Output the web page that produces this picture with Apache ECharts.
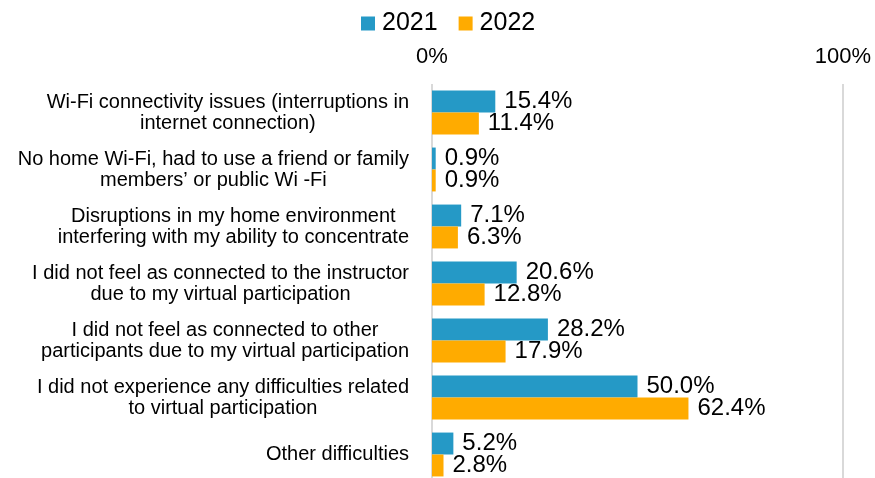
<!DOCTYPE html>
<html>
<head>
<meta charset="utf-8">
<script src="https://cdn.jsdelivr.net/npm/echarts@6/dist/echarts.min.js"></script>
<style>html,body{margin:0;padding:0;background:#fff;}#c{width:875px;height:478px;}</style>
</head>
<body>
<div id="c"></div>
<script>
const categories = [
  "Wi-Fi connectivity issues (interruptions in\ninternet connection)",
  "No home Wi-Fi, had to use a friend or family\nmembers’ or public Wi -Fi",
  "Disruptions in my home environment\ninterfering with my ability to concentrate",
  "I did not feel as connected to the instructor\ndue to my virtual participation",
  "I did not feel as connected to other\nparticipants due to my virtual participation",
  "I did not experience any difficulties related\nto virtual participation",
  "Other difficulties"
];
const values2021 = [15.4, 0.9, 7.1, 20.6, 28.2, 50.0, 5.2];
const values2022 = [11.4, 0.9, 6.3, 12.8, 17.9, 62.4, 2.8];
const seriesNames = ["2021", "2022"];

const chart = echarts.init(document.getElementById('c'));
const font = '"Liberation Sans", Arial, sans-serif';
const labelOpt = {
  show: true, position: 'right', distance: 9,
  fontSize: 24, color: '#000', fontFamily: font,
  formatter: p => p.value.toFixed(1) + '%'
};
chart.setOption({
  animation: false,
  legend: {
    top: 6, left: 356, itemWidth: 14, itemHeight: 14, itemGap: 21,
    icon: 'rect',
    textStyle: { fontSize: 25, color: '#000', fontFamily: font, padding: [0, 0, 0, 2] },
    data: seriesNames
  },
  grid: { left: 432, width: 411, top: 84, height: 399, outerBoundsMode: 'none', containLabel: false },
  xAxis: {
    type: 'value', position: 'top', min: 0, max: 100, interval: 100,
    axisLine: { show: false }, axisTick: { show: false },
    axisLabel: { formatter: '{value}%', fontSize: 22, color: '#000', fontFamily: font, margin: 16 },
    splitLine: { show: true, lineStyle: { color: '#d9d9d9', width: 2 } }
  },
  yAxis: {
    type: 'category', inverse: true, data: categories,
    axisLine: { show: false }, axisTick: { show: false },
    axisLabel: {
      margin: 23, align: 'right',
      formatter: v => v.split('\n').map(l => '{c|' + l + '}').join('\n'),
      rich: { c: { align: 'center', fontSize: 20, lineHeight: 21, color: '#000', fontFamily: font } }
    }
  },
  series: [
    { name: seriesNames[0], type: 'bar', data: values2021, barGap: '0%', barCategoryGap: '23%',
      itemStyle: { color: '#2599c6' }, label: labelOpt },
    { name: seriesNames[1], type: 'bar', data: values2022,
      itemStyle: { color: '#ffab00' }, label: labelOpt }
  ]
});
</script>
</body>
</html>
